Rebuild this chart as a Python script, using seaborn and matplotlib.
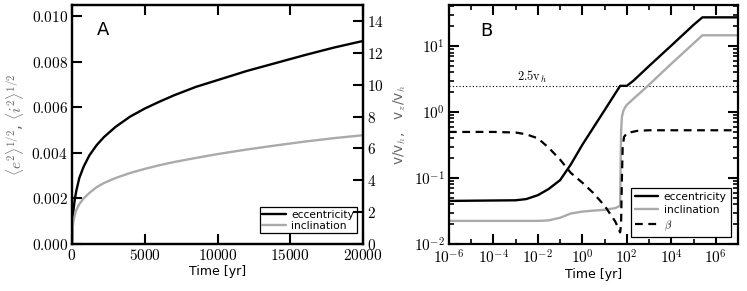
import matplotlib
matplotlib.use("Agg")
import matplotlib.pyplot as plt
import matplotlib.ticker as mticker
import seaborn as sns
import numpy as np

# ---- panel A: rms eccentricity / inclination vs time (linear)
time_a = [0, 20, 50, 100, 200, 300, 500, 800, 1200, 1700, 2200, 3000, 4000,
          5000, 6000, 7000, 8500, 10000, 12000, 14000, 16000, 18000, 20000]
ecc_a = [0, 0.75e-3, 1.1e-3, 1.5e-3, 2.0e-3, 2.35e-3, 2.9e-3, 3.4e-3, 3.9e-3,
         4.35e-3, 4.7e-3, 5.15e-3, 5.6e-3, 5.95e-3, 6.25e-3, 6.53e-3, 6.9e-3,
         7.2e-3, 7.6e-3, 7.95e-3, 8.3e-3, 8.63e-3, 8.92e-3]
inc_a = [0, 0.5e-3, 0.75e-3, 1.0e-3, 1.3e-3, 1.5e-3, 1.75e-3, 2.0e-3, 2.25e-3,
         2.5e-3, 2.68e-3, 2.9e-3, 3.12e-3, 3.3e-3, 3.46e-3, 3.6e-3, 3.78e-3,
         3.95e-3, 4.15e-3, 4.33e-3, 4.5e-3, 4.65e-3, 4.78e-3]
right_ticks_a = [0, 2, 4, 6, 8, 10, 12, 14]

# ---- panel B: velocities and beta vs time (log-log)
time_ecc_b = [1e-6, 1e-3, 3e-3, 1e-2, 3e-2, 1e-1, 3e-1, 1, 10, 50, 100, 200,
              1e3, 1e4, 1e5, 2.5e5, 1e7]
ecc_b = [0.045, 0.046, 0.048, 0.055, 0.068, 0.093, 0.16, 0.32, 1.07, 2.5, 2.5,
         3.0, 5.0, 10.2, 21.0, 27.3, 27.3]

time_inc_b = [1e-6, 1e-2, 3e-2, 1e-1, 3e-1, 1, 3, 10, 30, 50, 52, 55, 60, 70,
              80, 100, 1e3, 1e4, 1e5, 2.5e5, 1e7]
inc_b = [0.0224, 0.0224, 0.0228, 0.025, 0.029, 0.031, 0.032, 0.033, 0.035,
         0.038, 0.12, 0.5, 0.85, 1.05, 1.15, 1.29, 2.6, 5.4, 11.0, 14.6, 14.6]

time_beta_b = [1e-6, 1e-4, 1e-3, 3e-3, 1e-2, 3e-2, 1e-1, 3e-1, 1, 3, 10, 30,
               50, 55, 60, 65, 75, 100, 300, 1e3, 1e7]
beta_b = [0.5, 0.5, 0.49, 0.46, 0.40, 0.29, 0.19, 0.12, 0.085, 0.06, 0.038,
          0.022, 0.015, 0.02, 0.1, 0.3, 0.42, 0.48, 0.52, 0.53, 0.53]

v_line = 2.5

sns.set_theme(style="ticks")
plt.rcParams['font.family'] = ['DejaVu Sans']
plt.rcParams['mathtext.fontset'] = 'cm'
plt.rcParams.update({
    'axes.linewidth': 1.6,
    'axes.edgecolor': 'black',
    'axes.labelcolor': 'black',
    'text.color': 'black',
    'xtick.color': 'black',
    'ytick.color': 'black',
})

GRAY = '#aaaaaa'

fig = plt.figure(figsize=(7.47, 2.91), dpi=100)
axA = fig.add_axes([0.0964, 0.1615, 0.3896, 0.8213])
axB = fig.add_axes([0.601, 0.1615, 0.387, 0.8213])


def math_fmt(fmt):
    return mticker.FuncFormatter(lambda v, p: "$" + fmt.format(v) + "$")


# ---------------- panel A
sns.lineplot(x=time_a, y=ecc_a, ax=axA, color='black', lw=1.7,
             label='eccentricity', estimator=None, sort=False)
sns.lineplot(x=time_a, y=inc_a, ax=axA, color=GRAY, lw=1.7,
             label='inclination', estimator=None, sort=False)
axA.set_xlim(0, 20000)
axA.set_ylim(0, 0.0105)
axA.set_xticks([0, 5000, 10000, 15000, 20000])
axA.set_yticks([0, 0.002, 0.004, 0.006, 0.008, 0.010])
axA.xaxis.set_major_formatter(math_fmt("{:.0f}"))
axA.yaxis.set_major_formatter(math_fmt("{:.3f}"))
axA.tick_params(direction='in', length=7.5, width=1.5, labelsize=11,
                top=True, right=False, pad=3)
axA.set_xlabel("Time [yr]", fontsize=9, labelpad=1)
axA.set_ylabel(r"$\langle e^2\rangle^{1/2}$, $\langle i^2\rangle^{1/2}$",
               fontsize=11, color='#666666', labelpad=4)
axA.text(0.085, 0.895, "A", transform=axA.transAxes, fontsize=13,
         va='center', ha='left')
axA.legend(loc='lower right', bbox_to_anchor=(0.978, 0.045), fontsize=7.7,
           frameon=True, fancybox=False, edgecolor='black', framealpha=1,
           handlelength=2.2, labelspacing=0.1, borderpad=0.25,
           handletextpad=0.5, borderaxespad=0)
axA.get_legend().get_frame().set_linewidth(0.9)

twin = axA.twinx()
twin.set_ylim(0, 15)
twin.set_yticks(right_ticks_a)
twin.yaxis.set_major_formatter(math_fmt("{:.0f}"))
twin.tick_params(direction='in', length=7.5, width=1.5, labelsize=11, pad=3)
for s in twin.spines.values():
    s.set_linewidth(1.6)

# ---------------- panel B
axB.set_xscale('log')
axB.set_yscale('log')
sns.lineplot(x=time_ecc_b, y=ecc_b, ax=axB, color='black', lw=1.7,
             label='eccentricity', estimator=None, sort=False)
sns.lineplot(x=time_inc_b, y=inc_b, ax=axB, color=GRAY, lw=1.7,
             label='inclination', estimator=None, sort=False)
sns.lineplot(x=time_beta_b, y=beta_b, ax=axB, color='black', lw=1.6,
             label=r'$\beta$', estimator=None, sort=False)
axB.lines[-1].set_linestyle((0, (3.5, 2.5)))
axB.axhline(v_line, color='black', lw=0.8, ls=(0, (1, 2)), zorder=1)
axB.text(1.1e-3, v_line * 1.02, r"$2.5\mathrm{v}_h$", fontsize=9,
         ha='left', va='bottom')
axB.set_xlim(1e-6, 1e7)
axB.set_ylim(1e-2, 42)

axB.xaxis.set_major_locator(mticker.FixedLocator([10.0 ** k for k in range(-6, 8, 2)]))
axB.xaxis.set_minor_locator(mticker.FixedLocator([10.0 ** k for k in range(-5, 8, 2)]))
axB.xaxis.set_major_formatter(mticker.FuncFormatter(
    lambda v, p: "$10^{%d}$" % int(round(np.log10(v)))))
axB.xaxis.set_minor_formatter(mticker.NullFormatter())
axB.yaxis.set_major_locator(mticker.FixedLocator([1e-2, 1e-1, 1e0, 1e1]))
axB.yaxis.set_minor_locator(mticker.LogLocator(base=10, subs=np.arange(2, 10), numticks=20))
axB.yaxis.set_major_formatter(mticker.FuncFormatter(
    lambda v, p: "$10^{%d}$" % int(round(np.log10(v)))))
axB.yaxis.set_minor_formatter(mticker.NullFormatter())
axB.tick_params(which='major', direction='in', length=7.5, width=1.5,
                labelsize=11, top=True, right=True, pad=3)
axB.tick_params(which='minor', direction='in', length=3.5, width=1.2,
                top=True, right=True)
axB.set_xlabel("Time [yr]", fontsize=9, labelpad=1)
axB.set_ylabel(r"v/v$_h$,   v$_z$/v$_h$", fontsize=10, color='#666666',
               labelpad=4)
axB.text(0.107, 0.89, "B", transform=axB.transAxes, fontsize=13,
         va='center', ha='left')
axB.legend(loc='lower right', bbox_to_anchor=(0.975, 0.03), fontsize=7.7,
           frameon=True, fancybox=False, edgecolor='black', framealpha=1,
           handlelength=2.2, labelspacing=0.3, borderpad=0.4,
           handletextpad=0.5, borderaxespad=0)
axB.get_legend().get_frame().set_linewidth(0.9)

for ax in (axA, axB):
    for s in ax.spines.values():
        s.set_linewidth(1.6)
        s.set_visible(True)

fig.savefig("out.png", dpi=100)
